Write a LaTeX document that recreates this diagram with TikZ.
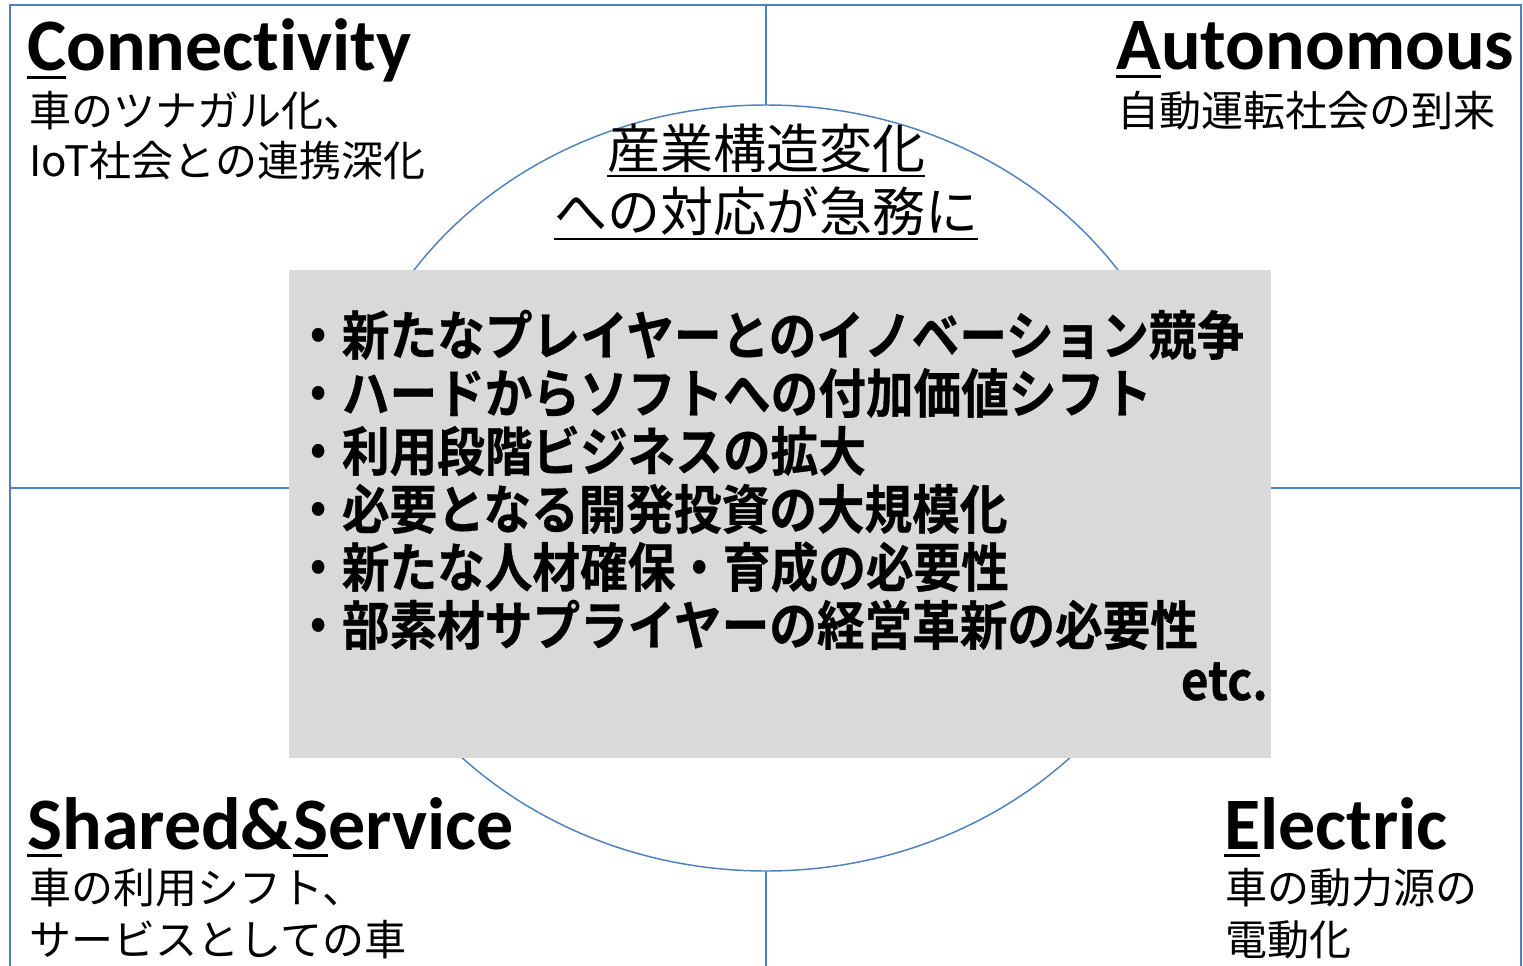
\documentclass[tikz,border=0pt]{standalone}
\usepackage{fontspec}
\setmainfont{Carlito}[Ligatures=NoCommon]
\newfontfamily\jpfont{Noto Sans CJK JP}
\newfontfamily\boxfont[FakeStretch=0.9, FakeBold=0.6]{Noto Sans CJK JP Bold}

\definecolor{gridblue}{HTML}{4F81BD}
\definecolor{boxgray}{HTML}{D9D9D9}

% underline only the first letter of a heading
\newcommand{\firstul}[1]{\setbox0\hbox{#1}\rlap{\rule[-0.11em]{\wd0}{2.3pt}}#1}
% underline a whole title line
\newcommand{\titleul}[1]{\setbox0\hbox{#1}\rlap{\rule[-0.16em]{\wd0}{1.5pt}}#1}

\begin{document}
\begin{tikzpicture}[x=0.75pt, y=-0.75pt,
    gridline/.style={draw=gridblue, line width=1.7pt},
    ringline/.style={draw=gridblue, line width=1.1pt},
    heading/.style={font=\fontsize{55.5pt}{60pt}\selectfont\bfseries, inner sep=0pt},
    subtext/.style={font=\jpfont\fontsize{31.5pt}{38pt}\selectfont, inner sep=0pt, anchor=base west},
    titletext/.style={font=\jpfont\fontsize{39.75pt}{48pt}\selectfont, inner sep=0pt, anchor=base},
    bulletline/.style={font=\boxfont\fontsize{39.7pt}{48pt}\selectfont, inner sep=0pt, anchor=base west}]

    \useasboundingbox (0,0) rectangle (1523,966);

    % --- Coordinates ---
    % outer frame (open at the bottom edge)
    \coordinate (TL) at (10,5);
    \coordinate (TR) at (1521,5);
    \coordinate (BL) at (10,966);
    \coordinate (BR) at (1521,966);
    % ends of the two cross lines and the centre
    \coordinate (Ntop) at (766,5);
    \coordinate (Nbot) at (766,966);
    \coordinate (Wmid) at (10,488);
    \coordinate (Emid) at (1521,488);
    \coordinate (O) at (766,488);

    % --- Frame and cross lines ---
    \draw[gridline] (BL) -- (TL) -- (TR) -- (BR);
    \draw[gridline] (Ntop) -- (Nbot);
    \draw[gridline] (Wmid) -- (Emid);

    % --- Ring (covers the cross lines inside it) ---
    \draw[ringline, fill=white] (O) ellipse [x radius=428, y radius=383];

    % --- Grey box ---
    \fill[boxgray] (289,270) rectangle (1271,758);

    % --- Corner headings ---
    \node[heading, anchor=base west] (conn) at (27,71) {\firstul{C}onnectivity};
    \node[subtext] (conn1) at (29,127) {車のツナガル化、};
    \node[subtext] (conn2) at (29,177) {IoT社会との連携深化};

    \node[heading, anchor=base west] (auto) at (1116,70) {\firstul{A}utonomous};
    \node[subtext] (auto1) at (1117,127) {自動運転社会の到来};

    \node[heading, anchor=base west] (shared) at (27,849) {\firstul{S}hared\&\firstul{S}ervice};
    \node[subtext] (shared1) at (29,903) {車の利用シフト、};
    \node[subtext] (shared2) at (29,955) {サービスとしての車};

    \node[heading, anchor=base west] (elec) at (1224,849) {\firstul{E}lectric};
    \node[subtext] (elec1) at (1225,903) {車の動力源の};
    \node[subtext] (elec2) at (1225,955) {電動化};

    % --- Title inside the ring ---
    \node[titletext] (title1) at (766,169) {\titleul{産業構造変化}};
    \node[titletext] (title2) at (766,232) {\titleul{への対応が急務に}};

    % --- Bullet list in the box ---
    \foreach \txt [count=\i from 0] in {新たなプレイヤーとのイノベーション競争,
        ハードからソフトへの付加価値シフト, 利用段階ビジネスの拡大,
        必要となる開発投資の大規模化, 新たな人材確保・育成の必要性,
        部素材サプライヤーの経営革新の必要性}
        \node[bulletline] (item\i) at (294,{355+58*\i}) {・\txt};
    \node[bulletline, anchor=base east] (etc) at (1268,700) {etc.};

\end{tikzpicture}
\end{document}
